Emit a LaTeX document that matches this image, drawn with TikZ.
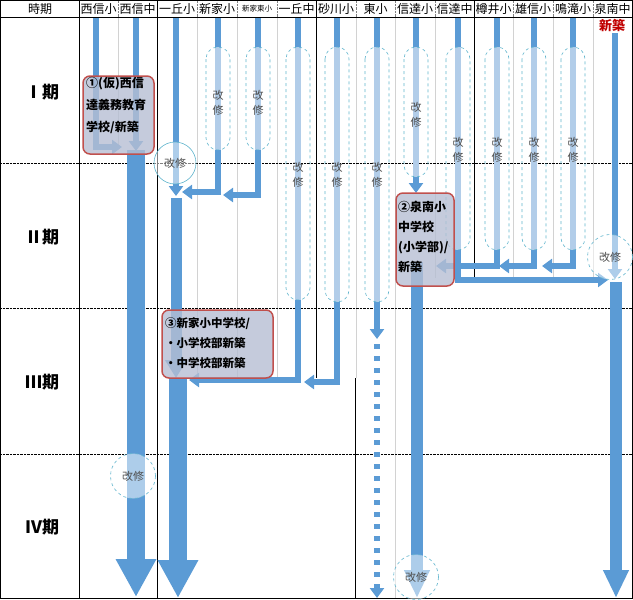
\documentclass[tikz,border=0pt]{standalone}
\usepackage{fontspec}
\setmainfont{Noto Sans CJK JP}
\usetikzlibrary{arrows.meta}
\definecolor{barblue}{RGB}{91,155,213}
\definecolor{barlight}{RGB}{178,205,233}
\definecolor{capline}{RGB}{95,180,205}
\definecolor{boxfill}{RGB}{182,190,211}
\definecolor{boxline}{RGB}{192,80,77}
\definecolor{gridgray}{RGB}{210,210,210}
\definecolor{txtgray}{RGB}{80,80,80}
\definecolor{newred}{RGB}{192,0,0}
\begin{document}
\begin{tikzpicture}[x=1pt,y=-1pt,
	>={Triangle[width=14pt,length=10pt]}, % arrow head style
	every node/.style={inner sep=0pt},
	hd/.style={font=\fontsize{12}{12}\selectfont},
	period/.style={font=\bfseries\fontsize{17}{17}\selectfont},
	bar/.style={draw=barblue,line width=6pt},
	lightbar/.style={draw=barlight,line width=6pt},
	bigbar/.style={draw=barblue,line width=18pt,-{Triangle[width=38pt,length=38pt]}},
	midbar/.style={draw=barblue,line width=12pt,-{Triangle[width=24pt,length=28pt]}},
	capsule/.style={draw=capline,dashed,line width=0.6pt,rounded corners=12pt},
	kai/.style={font=\fontsize{11}{15}\selectfont,text=txtgray,align=center},
	ring/.style={circle,minimum size=45pt,draw=capline,dashed,line width=0.6pt,
		fill=white,fill opacity=0.5,text opacity=1,text=txtgray,font=\fontsize{11}{11}\selectfont},
	plan/.style={draw=boxline,line width=1.5pt,rounded corners=7pt,fill=boxfill,fill opacity=0.8},
	note/.style={anchor=north west,align=left,font=\bfseries\fontsize{12}{22}\selectfont}]
	\useasboundingbox (0,0) rectangle (633,600);
	% table lines
	\draw[gridgray] (118,18) -- (118,150) (197,18) -- (197,378) (237,18) -- (237,378)
		(277,18) -- (277,378) (356,18) -- (356,378) (395,18) -- (395,598)
		(435,18) -- (435,278) (513,18) -- (513,278) (553,18) -- (553,278) (593,18) -- (593,278);
	\draw[densely dotted,gray] (118,1) -- (118,17) (197,1) -- (197,17) (237,1) -- (237,17)
		(277,1) -- (277,17) (356,1) -- (356,17) (395,1) -- (395,17) (435,1) -- (435,17)
		(513,1) -- (513,17) (553,1) -- (553,17) (593,1) -- (593,17);
	\draw[densely dotted] (0,163) -- (633,163) (0,308) -- (633,308) (0,454) -- (633,454);
	\draw[semithick] (79,0) -- (79,598) (157,0) -- (157,598) (316,0) -- (316,378)
		(355,378) -- (355,598) (474,0) -- (474,278);
	\draw[semithick] (0,17.5) -- (633,17.5);
	\draw[thick] (0.8,0.8) rectangle (632.2,598.5);
	% header
	\node[hd] (h0) at (40,9) {時期};
	\node[hd] (h1) at (98.5,9) {西信小};
	\node[hd] (h2) at (137.5,9) {西信中};
	\node[hd] (h3) at (177,9) {一丘小};
	\node[hd] (h4) at (217,9) {新家小};
	\node[font=\fontsize{7.5}{7.5}\selectfont] (h5) at (257,9) {新家東小};
	\node[hd] (h6) at (296.5,9) {一丘中};
	\node[hd] (h7) at (336,9) {砂川小};
	\node[hd] (h8) at (375.5,9) {東小};
	\node[hd] (h9) at (415,9) {信達小};
	\node[hd] (h10) at (454.5,9) {信達中};
	\node[hd] (h11) at (493.5,9) {樽井小};
	\node[hd] (h12) at (533,9) {雄信小};
	\node[hd] (h13) at (573,9) {鳴滝小};
	\node[hd] (h14) at (612.5,9) {泉南中};
	\node[period] (p1) at (42,92) {Ⅰ期};
	\node[period] (p2) at (42,237) {Ⅱ期};
	\node[period] (p3) at (42,382) {Ⅲ期};
	\node[period] (p4) at (42,527) {Ⅳ期};
	% west group
	\draw[bar,->] (96,18) -- (96,147) -- (122,147);
	\draw[bar,->] (136,18) -- (136,151);
	\draw[bigbar] (136,150) -- (136,597);
	\draw[bar,->] (176,18) -- (176,196);
	\draw[draw=barblue,line width=11pt,-{Triangle[width=21pt,length=18pt]}] (176,198) -- (176,378);
	\draw[bigbar] (178,379) -- (178,598);
	\draw[bar,->] (218,18) -- (218,192) -- (182,192);
	\draw[lightbar] (218,47) -- (218,150);
	\draw[capsule] (206,47) rectangle (230,150);
	\draw[bar,->] (258,18) -- (258,195) -- (223,195);
	\draw[lightbar] (258,47) -- (258,150);
	\draw[capsule] (246,47) rectangle (270,150);
	\draw[bar,->] (298,18) -- (298,380) -- (189,380);
	\draw[lightbar] (298,47) -- (298,300);
	\draw[capsule] (286,47) rectangle (310,300);
	\draw[bar,->] (337,18) -- (337,382) -- (304,382);
	\draw[lightbar] (337,47) -- (337,302);
	\draw[capsule] (325,47) rectangle (349,302);
	\draw[bar,->] (377,18) -- (377,339);
	\draw[lightbar] (377,47) -- (377,302);
	\draw[capsule] (365,47) rectangle (389,302);
	\draw[bar,dash pattern=on 5pt off 7pt,->] (377,344) -- (377,598);
	% south group
	\draw[bar,->] (416,18) -- (416,193);
	\draw[lightbar] (416,47) -- (416,177);
	\draw[capsule] (404,47) rectangle (428,177);
	\draw[midbar] (417,262) -- (417,598);
	\draw[bar,->] (458,18) -- (458,280) -- (608,280);
	\draw[lightbar] (458,47) -- (458,250);
	\draw[capsule] (446,47) rectangle (470,250);
	\draw[bar,->] (497,18) -- (497,266) -- (436,266);
	\draw[lightbar] (497,47) -- (497,250);
	\draw[capsule] (485,47) rectangle (509,250);
	\draw[bar,->] (534,18) -- (534,266) -- (499,266);
	\draw[lightbar] (534,47) -- (534,250);
	\draw[capsule] (522,47) rectangle (546,250);
	\draw[bar,->] (573,18) -- (573,266) -- (542,266);
	\draw[lightbar] (573,47) -- (573,250);
	\draw[capsule] (561,47) rectangle (585,250);
	\node[text=newred,font=\bfseries\fontsize{13}{13}\selectfont] (nw) at (612,25) {新築};
	\draw[bar,->] (615,33) -- (615,279);
	\draw[midbar] (616,282) -- (616,598);
	% labels
	\node[kai] (k1) at (218,103) {改\\修};
	\node[kai] (k2) at (258,103) {改\\修};
	\node[kai] (k3) at (298,175) {改\\修};
	\node[kai] (k4) at (337,175) {改\\修};
	\node[kai] (k5) at (377,175) {改\\修};
	\node[kai] (k6) at (416,115) {改\\修};
	\node[kai] (k7) at (458,150) {改\\修};
	\node[kai] (k8) at (497,150) {改\\修};
	\node[kai] (k9) at (534,150) {改\\修};
	\node[kai] (k10) at (573,150) {改\\修};
	\node[ring,solid,minimum size=42pt] (r1) at (175,163) {改修};
	\node[ring] (r2) at (133,476) {改修};
	\node[ring] (r3) at (610,257) {改修};
	\node[ring] (r4) at (416,577) {改修};
	% plans
	\node[plan,minimum width=71pt,minimum height=78pt] (b1) at (118.5,115) {};
	\node[plan,minimum width=58pt,minimum height=93pt] (b2) at (425,239.5) {};
	\node[plan,minimum width=111pt,minimum height=68pt] (b3) at (217.5,344) {};
	\node[note] (t1) at (86,77) {①(仮)西信\\達義務教育\\学校/新築};
	\node[note,font=\bfseries\fontsize{12}{20}\selectfont] (t2) at (398,201) {②泉南小\\中学校\\(小学部)/\\新築};
	\node[note,font=\bfseries\fontsize{11.5}{20}\selectfont] (t3) at (165,317) {③新家小中学校/\\・小学校部新築\\・中学校部新築};
\end{tikzpicture}
\end{document}
